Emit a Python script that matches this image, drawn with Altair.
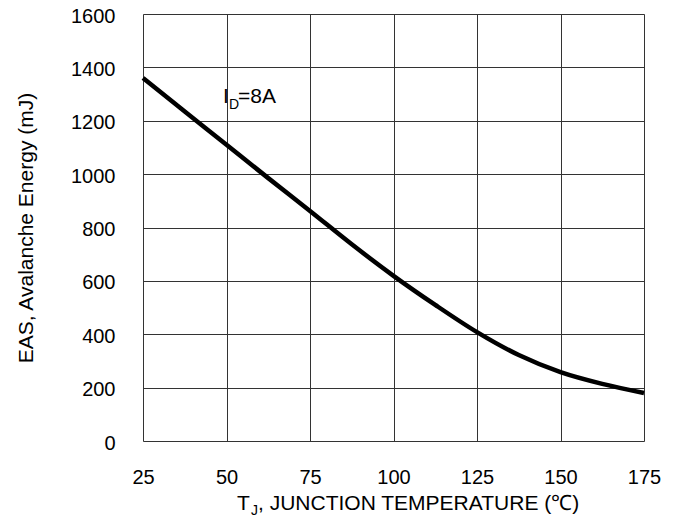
import altair as alt
import pandas as pd

temps = [25, 37.5, 50, 62.5, 75, 87.5, 100, 112.5, 125, 137.5, 150, 162.5, 175]
energy = [1360, 1235, 1110, 985, 862, 737, 619, 510, 408, 322, 258, 214, 180]
x_ticks = [25, 50, 75, 100, 125, 150, 175]
y_ticks = [0, 200, 400, 600, 800, 1000, 1200, 1400, 1600]

df = pd.DataFrame({"T": temps, "E": energy})
FONT = "Liberation Sans"

base = alt.Chart(df)

line = base.mark_line(color="black", strokeWidth=4.5, interpolate="monotone").encode(
    x=alt.X("T:Q", scale=alt.Scale(domain=[25, 175], nice=False),
            axis=alt.Axis(values=x_ticks, title=None, ticks=False, labelPadding=26,
                          labelFontSize=20, labelFont=FONT, labelColor="black",
                          labelFlush=False, format="d",
                          grid=True, gridColor="#333", gridWidth=1, domain=False)),
    y=alt.Y("E:Q", scale=alt.Scale(domain=[0, 1600], nice=False),
            axis=alt.Axis(values=y_ticks, title="EAS, Avalanche Energy (mJ)", ticks=False,
                          labelPadding=28, labelFontSize=20, labelFont=FONT, labelColor="black",
                          labelFlush=False, format="d", labelOffset=2,
                          titleFontSize=21, titleFont=FONT, titleFontWeight="normal",
                          titleColor="black", titleX=-111, titleY=213.5,
                          titleBaseline="alphabetic", titleAlign="center", titleAngle=270,
                          grid=True, gridColor="#333", gridWidth=1, domain=False)),
)

def txt(s, x, y, size):
    return alt.Chart(pd.DataFrame({"t": [s]})).mark_text(
        align="left", baseline="alphabetic", font=FONT, fontSize=size, color="black"
    ).encode(text="t:N", x=alt.value(x), y=alt.value(y))

labels = (
    txt("I", 80, 89, 21) + txt("D", 86, 95, 14) + txt("=8A", 95, 89, 21)
    + txt("T", 94, 496, 21) + txt("J", 108, 501, 14)
    + txt(", JUNCTION TEMPERATURE (\u2103)", 115, 496, 21)
)

chart = (line + labels).properties(
    width=501, height=427,
    autosize=alt.AutoSizeParams(type="none"),
    padding={"left": 135, "top": 6, "right": 26, "bottom": 77},
).configure_view(stroke="#444", strokeWidth=2).configure(background="white")

chart.save("out.html", embed_options={"renderer": "svg", "actions": False})
